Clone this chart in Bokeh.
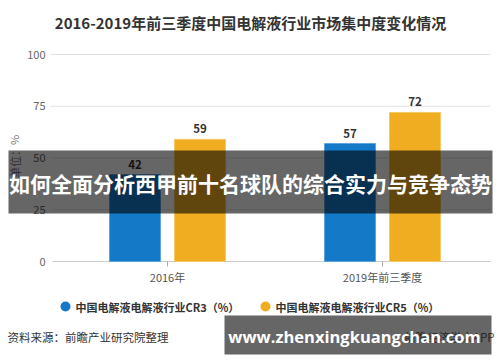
from bokeh.plotting import figure
from bokeh.models import Range1d
from bokeh.core.properties import value
from bokeh.embed import file_html
from bokeh.resources import INLINE

# ---- data ----
categories = ["2016年", "2019年前三季度"]
cr3 = [42, 57]
cr5 = [59, 72]
y_ticks = [0, 25, 50, 75, 100]
series_names = ["中国电解液电解液行业CR3（%）", "中国电解液电解液行业CR5（%）"]
title_text = "2016-2019年前三季度中国电解液行业市场集中度变化情况"
y_label = "单位：%"
source_text = "资料来源：前瞻产业研究院整理"
app_text = "前瞻经济学人APP"
banner_text = "如何全面分析西甲前十名球队的综合实力与竞争态势"
url_text = "www.zhenxingkuangchan.com"

# ---- layout (picture pixels) ----
W, H = 500, 362
OFF = 0
CAT_PX = 215.0          # pixels per category
CAT0_PX = 167.0         # x of first category centre
Y0_PX = 261.0           # y of value 0
PX_PER_UNIT = 2.07      # pixels per value unit

x_start = 0.5 - (CAT0_PX - OFF) / CAT_PX
x_end = x_start + W / CAT_PX
y_end = (Y0_PX - OFF) / PX_PER_UNIT
y_start = (Y0_PX - (OFF + H)) / PX_PER_UNIT


def xd(px):
    return x_start + (px - OFF) / CAT_PX


def yd(py):
    return (Y0_PX - py) / PX_PER_UNIT


CJK = value("Noto Sans CJK SC")

p = figure(width=W, height=H, x_range=Range1d(x_start, x_end), y_range=Range1d(y_start, y_end),
           output_backend="svg", toolbar_location=None, x_axis_location=None, y_axis_location=None,
           min_border=0, background_fill_color="white", border_fill_color="white")
p.outline_line_color = None
p.grid.visible = False

centers = [i + 0.5 for i in range(len(categories))]
bw = 51 / CAT_PX
dodge = 32.5 / CAT_PX

# grid lines
grid_left, grid_right = xd(50), xd(490)
gy = [t for t in y_ticks if t > 0]
p.segment(x0=[grid_left] * len(gy), x1=[grid_right] * len(gy), y0=gy, y1=gy,
          line_color="#e3e3e3", line_width=1)
# axis line and ticks
p.segment(x0=[xd(52)], x1=[grid_right], y0=[0], y1=[0], line_color="#cccccc", line_width=1.2)
p.segment(x0=centers, x1=centers, y0=[0] * 2, y1=[-5 / PX_PER_UNIT] * 2, line_color="#aaaaaa", line_width=1)

# y tick labels
p.text(x=[xd(45)] * len(y_ticks), y=y_ticks, text=[str(t) for t in y_ticks],
       text_align="right", text_baseline="middle", text_font=CJK, text_font_size="11px",
       text_color="#666666")

# bars
x3 = [c - dodge for c in centers]
x5 = [c + dodge for c in centers]
p.vbar(x=x3, top=cr3, width=bw, bottom=0, fill_color="#1479c7", line_color="#5fa3dc", line_width=1)
p.vbar(x=x5, top=cr5, width=bw, bottom=0, fill_color="#f0ad22", line_color="#f6c866", line_width=1)

# value labels
p.text(x=x3 + x5, y=cr3 + cr5, text=[str(v) for v in cr3 + cr5], text_align="center",
       text_baseline="bottom", y_offset=-6, text_font=CJK, text_font_size="11.5px",
       text_font_style="bold", text_color="#333333")

# category labels
p.text(x=centers, y=[0, 0], text=categories, text_align="center", text_baseline="top",
       y_offset=7, text_font=CJK, text_font_size="11px", text_color="#555555")

# title
p.text(x=[xd(250)], y=[yd(22)], text=[title_text], text_align="center", text_baseline="middle",
       text_font=CJK, text_font_size="15px", text_font_style="bold", text_color="#333333")

# y axis label
p.text(x=[xd(14)], y=[yd(156)], text=[y_label], angle=1.5708, text_align="center",
       text_baseline="middle", text_font=CJK, text_font_size="11px", text_color="#777777")

# legend
p.scatter(x=[xd(65), xd(265)], y=[yd(306)] * 2, size=10, fill_color=["#1479c7", "#f0ad22"],
          line_color=None)
p.text(x=[xd(75), xd(275)], y=[yd(306)] * 2, text=series_names, text_align="left",
       text_baseline="middle", text_font=CJK, text_font_size="11px", text_font_style="bold",
       text_color="#333333")

# source
p.text(x=[xd(7)], y=[yd(336)], text=[source_text], text_align="left", text_baseline="middle",
       text_font=CJK, text_font_size="11.5px", text_color="#333333")
p.text(x=[xd(494)], y=[yd(336)], text=[app_text], text_align="right", text_baseline="middle",
       text_font=CJK, text_font_size="11.5px", text_color="#666666")

# overlay banners
p.quad(left=[xd(8)], right=[xd(492)], top=[yd(150)], bottom=[yd(213)], fill_color="black",
       fill_alpha=0.6, line_color=None)
p.text(x=[xd(250)], y=[yd(182)], text=[banner_text], text_align="center", text_baseline="middle",
       text_font=CJK, text_font_size="21px", text_font_style="bold", text_color="white")

p.quad(left=[xd(224)], right=[xd(491)], top=[yd(315)], bottom=[yd(354)], fill_color="black",
       fill_alpha=0.6, line_color=None)
p.text(x=[xd(354)], y=[yd(336)], text=[url_text], text_align="center", text_baseline="middle",
       text_font=value("Open Sans"), text_font_size="16.5px", text_font_style="bold",
       text_color="white")

open("out.html", "w").write(file_html(p, INLINE))
